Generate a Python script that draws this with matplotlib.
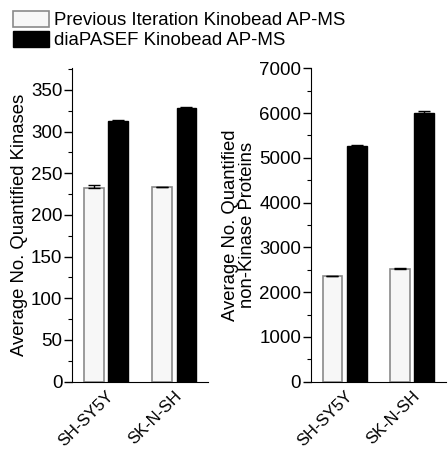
"""
Kinobead AP-MS comparison: quantified kinases and non-kinase proteins.
"""

import numpy as np
import matplotlib
matplotlib.use("Agg")
from matplotlib import pyplot as plt
from matplotlib.ticker import MultipleLocator
from matplotlib.transforms import ScaledTranslation

plt.rcParams["font.family"] = ["Liberation Sans", "DejaVu Sans"]

# Data
cell_lines = ["SH-SY5Y", "SK-N-SH"]
series_names = ["Previous Iteration Kinobead AP-MS", "diaPASEF Kinobead AP-MS"]

kinases_prev = [232, 234]
kinases_prev_err = [4, 0]
kinases_dia = [313, 328]
kinases_dia_err = [1, 2]

nonkinase_prev = [2360, 2515]
nonkinase_prev_err = [8, 25]
nonkinase_dia = [5260, 6000]
nonkinase_dia_err = [35, 45]

fig = plt.figure(figsize=(4.48, 4.51), dpi=100)
ax1 = fig.add_axes([0.1607, 0.1537, 0.304, 0.695])
ax2 = fig.add_axes([0.694, 0.1537, 0.301, 0.695])

x = np.arange(len(cell_lines))
WIDTH = 0.29
OFFSET = 0.18


def draw_panel(ax, prev, prev_err, dia, dia_err):
    ax.bar(x - OFFSET, prev, WIDTH, color="#f7f7f7", edgecolor="#8a8a8a",
           linewidth=1.2, label=series_names[0])
    ax.bar(x + OFFSET, dia, WIDTH, color="black", edgecolor="black",
           linewidth=1.0, label=series_names[1])
    ax.errorbar(x - OFFSET, prev, yerr=[np.zeros(len(prev)), prev_err],
                fmt="none", ecolor="black", elinewidth=1, capsize=4, capthick=1)
    ax.errorbar(x + OFFSET, dia, yerr=[np.zeros(len(dia)), dia_err],
                fmt="none", ecolor="black", elinewidth=1, capsize=4, capthick=1)
    ax.set_xlim(-0.5, 1.5)
    ax.set_xticks(x)
    ax.set_xticklabels(cell_lines, rotation=45, ha="right",
                       rotation_mode="anchor", fontsize=12)
    # nudge the rotated labels a little to the right
    shift = ScaledTranslation(7 / 100, 0, fig.dpi_scale_trans)
    for lbl in ax.get_xticklabels():
        lbl.set_transform(lbl.get_transform() + shift)
    for side in ["top", "right"]:
        ax.spines[side].set_visible(False)
    ax.tick_params(axis="y", which="major", length=6, width=1, labelsize=13.5, pad=1)
    ax.tick_params(axis="y", which="minor", length=3, width=0.8)
    ax.tick_params(axis="x", length=0, pad=5)


draw_panel(ax1, kinases_prev, kinases_prev_err, kinases_dia, kinases_dia_err)
ax1.set_ylim(0, 376)
ax1.yaxis.set_major_locator(MultipleLocator(50))
ax1.yaxis.set_minor_locator(MultipleLocator(25))
ax1.set_ylabel("Average No. Quantified Kinases", fontsize=13.3, labelpad=2)

draw_panel(ax2, nonkinase_prev, nonkinase_prev_err, nonkinase_dia, nonkinase_dia_err)
ax2.set_ylim(0, 7000)
ax2.yaxis.set_major_locator(MultipleLocator(1000))
ax2.yaxis.set_minor_locator(MultipleLocator(500))
ax2.set_ylabel("Average No. Quantified\nnon-Kinase Proteins", fontsize=13.3,
               labelpad=2, linespacing=1.0)

handles, labels = ax1.get_legend_handles_labels()
fig.legend(handles, labels, loc="upper left", bbox_to_anchor=(0.012, 0.993),
           frameon=False, fontsize=13.4, handlelength=1.95, handleheight=0.95,
           handletextpad=0.25, labelspacing=0.1, borderaxespad=0)

fig.savefig("out.png", dpi=100)
